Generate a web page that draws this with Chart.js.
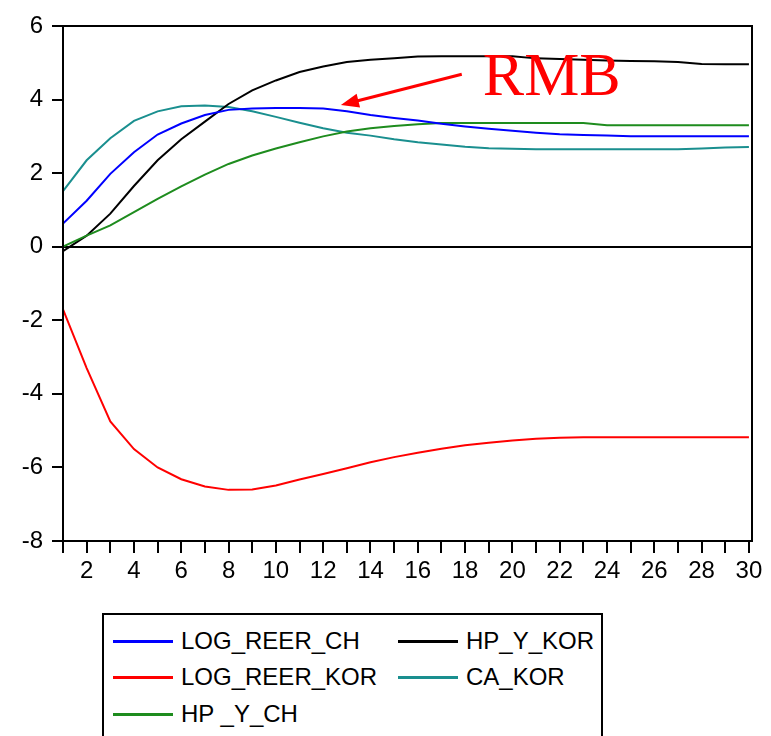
<!DOCTYPE html>
<html>
<head>
<meta charset="utf-8">
<script src="https://cdn.jsdelivr.net/npm/chart.js@4.4.1/dist/chart.umd.min.js"></script>
<style>
body{margin:0;background:#fff;width:771px;height:736px;overflow:hidden;position:relative;font-family:"Liberation Sans",Arial,sans-serif}
#wrap{position:absolute;left:0;top:0;width:771px;height:600px}
#legend{position:absolute;left:102px;top:613px;width:497px;height:140px;border:2px solid #000}
.item{position:absolute;height:36px;display:flex;align-items:center;font-size:24px;color:#000;white-space:nowrap}
.item .ln{display:inline-block;width:60px;height:0;border-top:3px solid;margin-right:8px}
</style>
</head>
<body>
<div id="wrap"><canvas id="c"></canvas></div>
<div id="legend"></div>
<script>
// periods after the shock
const periods = [1,2,3,4,5,6,7,8,9,10,11,12,13,14,15,16,17,18,19,20,21,22,23,24,25,26,27,28,29,30];

// responses
const logReerCh  = [0.63,1.25,1.98,2.57,3.05,3.35,3.58,3.72,3.76,3.77,3.77,3.76,3.68,3.58,3.5,3.43,3.34,3.27,3.21,3.15,3.1,3.06,3.04,3.02,3.0,3.0,3.0,3.0,3.0,3.0];
const logReerKor = [-1.7,-3.3,-4.75,-5.5,-6.0,-6.32,-6.52,-6.61,-6.6,-6.49,-6.33,-6.18,-6.02,-5.86,-5.72,-5.6,-5.49,-5.4,-5.33,-5.27,-5.22,-5.19,-5.18,-5.18,-5.18,-5.18,-5.18,-5.18,-5.18,-5.18];
const hpYCh      = [0.0,0.3,0.58,0.94,1.3,1.64,1.96,2.25,2.48,2.67,2.84,3.0,3.13,3.22,3.28,3.33,3.36,3.36,3.36,3.36,3.36,3.36,3.36,3.3,3.3,3.3,3.3,3.3,3.3,3.3];
const hpYKor     = [-0.12,0.3,0.9,1.65,2.35,2.92,3.4,3.88,4.25,4.52,4.75,4.9,5.02,5.08,5.12,5.17,5.18,5.18,5.18,5.18,5.12,5.1,5.08,5.06,5.05,5.04,5.02,4.97,4.96,4.96];
const caKor      = [1.51,2.35,2.95,3.42,3.68,3.82,3.84,3.8,3.68,3.53,3.37,3.22,3.1,3.02,2.92,2.84,2.78,2.72,2.68,2.66,2.65,2.65,2.65,2.65,2.65,2.65,2.65,2.67,2.7,2.71];

const seriesNames  = ['LOG_REER_CH','LOG_REER_KOR','HP _Y_CH','HP_Y_KOR','CA_KOR'];
const seriesValues = [logReerCh, logReerKor, hpYCh, hpYKor, caKor];
const seriesColors = ['#0000ff','#ff0000','#1e8c1e','#000000','#1a8f8f'];

const yTicks = [-8,-6,-4,-2,0,2,4,6];

// the arrow and its label, in data units
const noteText = 'RMB';
const noteAt = {x: 18.75, y: 4.12};
const arrowFrom = {x: 17.86, y: 4.69};
const arrowTo = {x: 12.75, y: 3.85};

Chart.defaults.font.family = '"Liberation Sans", Arial, sans-serif';
Chart.defaults.font.size = 24;
Chart.defaults.color = '#000';

const frame = {
  id: 'frame',
  afterDraw(chart) {
    const {ctx, chartArea: a, scales: {x, y}} = chart;
    ctx.save();
    ctx.strokeStyle = '#000';
    ctx.lineWidth = 2;
    ctx.strokeRect(a.left, a.top, a.right - a.left, a.bottom - a.top);

    // arrow pointing at the RMB line
    const x0 = x.getPixelForValue(arrowFrom.x), y0 = y.getPixelForValue(arrowFrom.y);
    const x1 = x.getPixelForValue(arrowTo.x), y1 = y.getPixelForValue(arrowTo.y);
    const ang = Math.atan2(y1 - y0, x1 - x0);
    const hl = 18, hw = 7;
    ctx.strokeStyle = '#ff0000';
    ctx.fillStyle = '#ff0000';
    ctx.lineWidth = 3;
    ctx.beginPath();
    ctx.moveTo(x0, y0);
    ctx.lineTo(x1 - Math.cos(ang) * hl * 0.8, y1 - Math.sin(ang) * hl * 0.8);
    ctx.stroke();
    ctx.beginPath();
    ctx.moveTo(x1, y1);
    ctx.lineTo(x1 - Math.cos(ang) * hl - Math.sin(ang) * hw, y1 - Math.sin(ang) * hl + Math.cos(ang) * hw);
    ctx.lineTo(x1 - Math.cos(ang) * hl + Math.sin(ang) * hw, y1 - Math.sin(ang) * hl - Math.cos(ang) * hw);
    ctx.closePath();
    ctx.fill();

    ctx.font = '62px "Liberation Serif", "Times New Roman", serif';
    ctx.textBaseline = 'alphabetic';
    ctx.textAlign = 'left';
    ctx.fillText(noteText, x.getPixelForValue(noteAt.x), y.getPixelForValue(noteAt.y));
    ctx.restore();
  }
};

new Chart(document.getElementById('c'), {
  type: 'line',
  data: {
    datasets: seriesNames.map((n, i) => ({
      label: n,
      data: seriesValues[i].map((v, j) => ({x: periods[j], y: v})),
      borderColor: seriesColors[i],
      borderWidth: 2,
      pointRadius: 0,
      tension: 0,
      fill: false
    }))
  },
  options: {
    responsive: true,
    maintainAspectRatio: false,
    animation: false,
    layout: {padding: {top: 26, right: 19, left: 0, bottom: 0}},
    plugins: {legend: {display: false}, tooltip: {enabled: false}},
    scales: {
      x: {
        type: 'linear',
        min: 1,
        max: 30.13,
        afterBuildTicks: s => { s.ticks = periods.map(v => ({value: v})); },
        afterFit: s => { s.height = 59; },
        ticks: {
          autoSkip: false,
          maxRotation: 0,
          padding: 4,
          callback: v => (v % 2 === 0 ? String(v) : '')
        },
        grid: {drawOnChartArea: false, tickLength: 12, tickColor: '#000', lineWidth: 2},
        border: {color: '#000', width: 2}
      },
      y: {
        min: -8,
        max: 6,
        afterBuildTicks: s => { s.ticks = yTicks.map(v => ({value: v})); },
        afterFit: s => { s.width = 63; },
        ticks: {padding: 9},
        grid: {
          color: c => (c.tick && c.tick.value === 0 ? '#000' : 'rgba(0,0,0,0)'),
          tickColor: '#000',
          tickLength: 11,
          lineWidth: 2
        },
        border: {color: '#000', width: 2}
      }
    }
  },
  plugins: [frame]
});

// legend laid out in two columns like the original
const lg = document.getElementById('legend');
seriesNames.forEach((n, i) => {
  const d = document.createElement('div');
  d.className = 'item';
  d.style.left = (i < 3 ? 9 : 294) + 'px';
  d.style.top = [8, 44, 81][i % 3] + 'px';
  d.innerHTML = '<span class="ln" style="border-color:' + seriesColors[i] + '"></span>' + n;
  lg.appendChild(d);
});
</script>
</body>
</html>
